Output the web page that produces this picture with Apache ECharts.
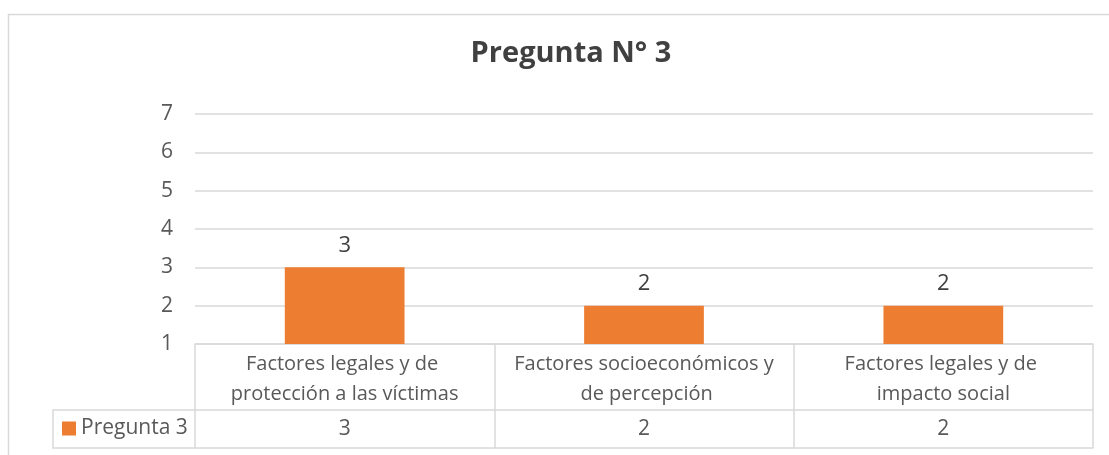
<!DOCTYPE html>
<html>
<head>
<meta charset="utf-8">
<style>
  html, body { margin: 0; padding: 0; background: #fff; }
  #main { width: 1109px; height: 455px; }
</style>
<script src="https://cdn.jsdelivr.net/npm/echarts@6/dist/echarts.min.js"></script>
</head>
<body>
<div id="main"></div>
<script>
// datos del gráfico
var categorias = [
  'Factores legales y de protección a las víctimas',
  'Factores socioeconómicos y de percepción',
  'Factores legales y de impacto social'
];
var valores = [3, 2, 2];
var serieNombre = 'Pregunta 3';
var titulo = 'Pregunta N° 3';
var ejeMin = 1;
var ejeMax = 7;
var ejePaso = 1;

var fuente = '"Open Sans", "DejaVu Sans", sans-serif';
var gris = '#D9D9D9';
var texto = '#595959';

// medidas de la tabla de datos
var gridLeft = 195, gridRight = 16, gridTop = 114, gridBottom = 111;
var filaCat = 66, filaVal = 38, celdaLeyenda = 53;

var chart = echarts.init(document.getElementById('main'));
var yEje = 455 - gridBottom;

var option = {
  backgroundColor: '#fff',
  animation: false,
  title: {
    text: titulo,
    left: 566,
    top: 34,
    textAlign: 'center',
    textStyle: { fontFamily: fuente, fontSize: 29, fontWeight: 'bold', color: '#404040' }
  },
  legend: {
    data: [serieNombre],
    left: 62,
    top: yEje + filaCat + 8,
    icon: 'rect',
    itemWidth: 14,
    itemHeight: 14,
    itemGap: 5,
    textStyle: { fontFamily: fuente, fontSize: 21, color: texto },
    padding: 0
  },
  grid: { left: gridLeft, right: gridRight, top: gridTop, bottom: gridBottom },
  xAxis: [
    {
      type: 'category',
      data: categorias,
      axisLine: { lineStyle: { color: gris, width: 1.5 } },
      axisTick: { show: true, length: filaCat + filaVal, lineStyle: { color: gris, width: 1.5 } },
      axisLabel: {
        interval: 0,
        margin: 5,
        fontFamily: fuente, fontSize: 20, color: texto,
        lineHeight: 30, width: 272, overflow: 'break', align: 'center'
      }
    },
    {
      type: 'category',
      data: categorias,
      position: 'bottom',
      offset: filaCat,
      axisLine: { lineStyle: { color: gris, width: 1.5 } },
      axisTick: { show: false },
      axisLabel: {
        interval: 0,
        margin: 0,
        lineHeight: filaVal,
        fontFamily: fuente, fontSize: 21, color: texto,
        formatter: function (v, i) { return String(valores[i]); }
      }
    },
    {
      type: 'category',
      data: categorias,
      position: 'bottom',
      offset: filaCat + filaVal,
      axisLine: { lineStyle: { color: gris, width: 1.5 } },
      axisTick: { show: false },
      axisLabel: { show: false }
    }
  ],
  yAxis: {
    type: 'value',
    min: ejeMin,
    max: ejeMax,
    interval: ejePaso,
    axisLine: { show: false },
    axisTick: { show: false },
    axisLabel: { margin: 22, fontFamily: fuente, fontSize: 21, color: texto },
    splitLine: { lineStyle: { color: gris, width: 1.5 } }
  },
  series: [{
    name: serieNombre,
    type: 'bar',
    data: valores,
    barWidth: '40%',
    itemStyle: { color: '#ED7D31' },
    label: {
      show: true,
      position: 'top',
      distance: 11,
      fontFamily: fuente, fontSize: 22, color: '#404040'
    }
  }],
  graphic: [
    {
      type: 'rect',
      shape: { x: 8.5, y: 14.5, width: 1200, height: 600 },
      style: { fill: null, stroke: gris, lineWidth: 1.5 },
      silent: true
    },
    {
      type: 'polyline',
      shape: {
        points: [
          [gridLeft, yEje + filaCat],
          [celdaLeyenda, yEje + filaCat],
          [celdaLeyenda, yEje + filaCat + filaVal],
          [gridLeft, yEje + filaCat + filaVal]
        ]
      },
      style: { fill: null, stroke: gris, lineWidth: 1.5 },
      silent: true
    }
  ]
};

chart.setOption(option);
</script>
</body>
</html>
